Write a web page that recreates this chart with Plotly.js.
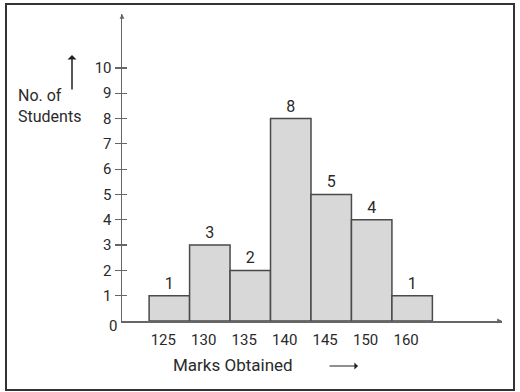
<!DOCTYPE html>
<html><head><meta charset="utf-8">
<script src="https://cdn.plot.ly/plotly-3.0.1.min.js"></script>
<style>html,body{margin:0;padding:0;background:#fff}#c{width:520px;height:392px}</style>
</head><body><div id="c"></div>
<script>
const categories = ['125','130','135','140','145','150','160'];
const students = [1, 3, 2, 8, 5, 4, 1];
const yTicks = [1,2,3,4,5,6,7,8,9,10];

const idx = categories.map((c,i)=>i);
const L = 122, T = 14, W = 380, H = 307;
const px = x => (x - L) / W;
const py = y => (T + H - y) / H;
const fam = 'Roboto, Arial, sans-serif';
const font = {family: fam, color: '#2a2a2a', size: 15};

const trace = {
  type: 'bar', x: idx, y: students, width: 1,
  marker: {color: '#d8d8d8', line: {color: '#4a4a4a', width: 1.5}},
  text: students.map(String), textposition: 'outside', cliponaxis: false,
  textfont: {family: fam, size: 16, color: '#2a2a2a'}
};
const ticksOnly = {
  type: 'scatter', x: [null], y: [null], yaxis: 'y2', hoverinfo: 'skip', showlegend: false
};

const layout = {
  width: 520, height: 392,
  margin: {l: L, r: 520 - L - W, t: T, b: 392 - T - H},
  paper_bgcolor: '#fff', plot_bgcolor: '#fff',
  showlegend: false, font: font,
  xaxis: {range: [-1.17, 8.22], showgrid: false, zeroline: false, showline: true,
    linecolor: '#666', linewidth: 1.5, ticks: '', ticklabelstandoff: 4,
    tickvals: idx.map(i => i - 0.15), ticktext: categories,
    tickfont: {family: fam, size: 15, color: '#2a2a2a'}, fixedrange: true},
  yaxis: {range: [0, 12.13], showgrid: false, zeroline: false, showline: true,
    linecolor: '#666', linewidth: 1.5, ticks: 'outside', ticklen: 6, tickcolor: '#666', tickwidth: 1.2,
    tickvals: yTicks, ticktext: yTicks.map(String),
    tickfont: {family: fam, size: 15, color: '#2a2a2a'}, fixedrange: true},
  yaxis2: {range: [0, 12.13], overlaying: 'y', side: 'left', showgrid: false, zeroline: false,
    showline: false, ticks: 'inside', ticklen: 5, tickcolor: '#666', tickwidth: 1.2,
    tickvals: yTicks, showticklabels: false, fixedrange: true},
  shapes: [
    {type: 'rect', xref: 'paper', yref: 'paper', x0: px(6), x1: px(514), y0: py(390), y1: py(4),
      line: {color: '#333', width: 2}}
  ],
  annotations: [
    {xref: 'paper', yref: 'paper', x: px(113), y: py(326), xanchor: 'center', yanchor: 'middle',
      text: '0', showarrow: false, font: font},
    {xref: 'paper', yref: 'paper', x: px(16), y: py(106), text: 'No. of<br>Students', showarrow: false,
      xanchor: 'left', yanchor: 'middle', align: 'left', font: {family: fam, size: 16, color: '#2a2a2a'}},
    {xref: 'paper', yref: 'paper', x: px(233), y: py(365), xanchor: 'center', yanchor: 'middle',
      text: 'Marks Obtained', showarrow: false, font: {family: fam, size: 17, color: '#2a2a2a'}},
    {xref: 'paper', yref: 'paper', x: px(72), y: py(55), ax: 0, ay: 36, text: '', showarrow: true,
      arrowhead: 1, arrowsize: 1, arrowwidth: 1.5, arrowcolor: '#222'},
    {xref: 'paper', yref: 'paper', x: px(358), y: py(366), ax: -30, ay: 0, text: '', showarrow: true,
      arrowhead: 1, arrowsize: 1, arrowwidth: 1.2, arrowcolor: '#222'},
    {xref: 'paper', yref: 'paper', x: 1, y: 0, ax: -6, ay: 0, text: '', showarrow: true,
      arrowhead: 2, arrowsize: 0.8, arrowwidth: 1.2, arrowcolor: '#666'},
    {xref: 'paper', yref: 'paper', x: 0, y: 1, ax: 0, ay: 6, text: '', showarrow: true,
      arrowhead: 2, arrowsize: 0.8, arrowwidth: 1.2, arrowcolor: '#666'}
  ]
};
Plotly.newPlot('c', [trace, ticksOnly], layout, {displayModeBar: false, staticPlot: true});
</script></body></html>
